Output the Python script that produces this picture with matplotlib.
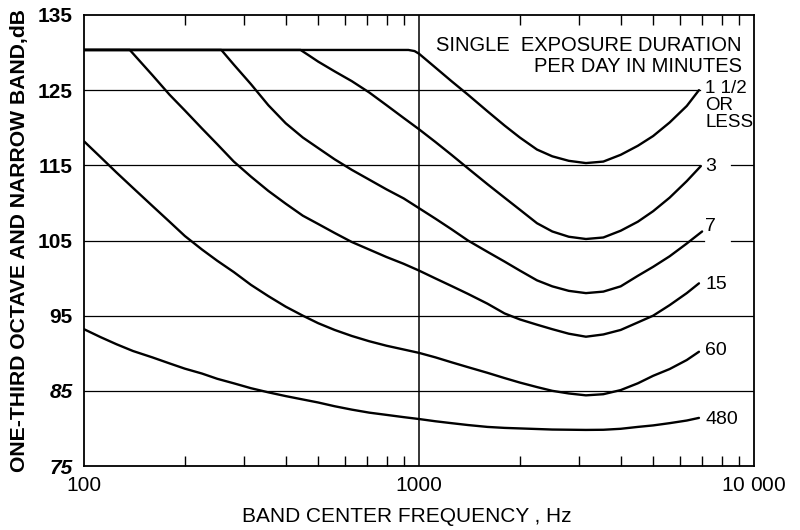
import matplotlib
matplotlib.use('Agg')
import matplotlib.pyplot as plt
from matplotlib.ticker import FixedLocator, NullFormatter

plt.rcParams['font.family'] = ['Liberation Sans', 'DejaVu Sans']
plt.rcParams['mathtext.fontset'] = 'custom'
plt.rcParams['mathtext.it'] = 'Liberation Sans:italic'
plt.rcParams['mathtext.rm'] = 'Liberation Sans'

# ---------------- data ----------------
# "1 1/2 OR LESS" minutes
f_1p5 = [100, 930, 970, 1000, 1060, 1120, 1250, 1400, 1600, 1800, 2000, 2250,
         2500, 2800, 3150, 3550, 4000, 4500, 5000, 5600, 6300, 6850]
db_1p5 = [130.35, 130.35, 130.2, 129.85, 128.9, 128.0, 126.2, 124.4, 122.2,
          120.3, 118.7, 117.1, 116.2, 115.6, 115.3, 115.5, 116.4, 117.6, 118.9,
          120.7, 122.9, 125.0]

# 3 minutes
f_3 = [100, 443, 470, 500, 560, 630, 710, 800, 900, 1000, 1120, 1250, 1400, 1600,
       1800, 2000, 2250, 2500, 2800, 3150, 3550, 4000, 4500, 5000, 5600, 6300, 6940]
db_3 = [130.35, 130.35, 129.6, 128.8, 127.5, 126.2, 124.7, 123.0, 121.3, 119.8,
        118.1, 116.4, 114.6, 112.5, 110.7, 109.1, 107.3, 106.2, 105.5, 105.2,
        105.4, 106.3, 107.5, 108.9, 110.7, 112.9, 114.9]

# 7 minutes
f_7 = [100, 257, 280, 315, 355, 400, 450, 500, 560, 630, 710, 800, 900, 1000,
       1120, 1250, 1400, 1600, 1800, 2000, 2250, 2500, 2800, 3150, 3550, 4000,
       4500, 5000, 5600, 6300, 7000]
db_7 = [130.35, 130.35, 128.4, 125.8, 123.0, 120.6, 118.7, 117.3, 115.8, 114.4,
        113.1, 111.8, 110.6, 109.3, 107.9, 106.5, 105.0, 103.5, 102.2, 101.0,
        99.7, 98.9, 98.3, 98.0, 98.2, 98.9, 100.3, 101.5, 102.9, 104.6, 106.2]

# 15 minutes
f_15 = [100, 137, 160, 180, 200, 225, 250, 280, 315, 355, 400, 450, 500, 560, 630,
        710, 800, 900, 1000, 1120, 1250, 1400, 1600, 1800, 2000, 2250, 2500, 2800,
        3150, 3550, 4000, 4500, 5000, 5600, 6300, 6850]
db_15 = [130.35, 130.35, 127.0, 124.4, 122.3, 119.9, 117.8, 115.5, 113.5, 111.6,
         109.9, 108.3, 107.2, 106.0, 104.8, 103.8, 102.8, 101.9, 101.0, 99.95,
         98.95, 97.9, 96.6, 95.3, 94.5, 93.8, 93.2, 92.6, 92.2, 92.5, 93.1, 94.1,
         95.0, 96.4, 98.0, 99.3]

# 60 minutes
f_60 = [100, 112, 125, 140, 160, 180, 200, 225, 250, 280, 315, 355, 400, 450, 500,
        560, 630, 710, 800, 900, 1000, 1120, 1250, 1400, 1600, 1800, 2000, 2250,
        2500, 2800, 3150, 3550, 4000, 4500, 5000, 5600, 6300, 6850]
db_60 = [118.2, 116.1, 114.05, 112.0, 109.6, 107.5, 105.6, 103.8, 102.3, 100.8,
         99.1, 97.6, 96.2, 95.0, 94.0, 93.1, 92.3, 91.6, 91.0, 90.5, 90.05, 89.45,
         88.8, 88.15, 87.4, 86.7, 86.1, 85.5, 85.0, 84.65, 84.4, 84.55, 85.1,
         86.0, 87.0, 87.9, 89.1, 90.2]

# 480 minutes
f_480 = [100, 112, 125, 140, 160, 180, 200, 225, 250, 280, 315, 355, 400, 450, 500,
         560, 630, 710, 800, 900, 1000, 1120, 1250, 1400, 1600, 1800, 2000, 2500,
         3150, 3550, 4000, 4500, 5000, 5600, 6300, 6850]
db_480 = [93.2, 92.15, 91.2, 90.3, 89.45, 88.65, 87.95, 87.3, 86.6, 86.0, 85.35,
          84.8, 84.3, 83.85, 83.45, 82.95, 82.5, 82.1, 81.8, 81.5, 81.25, 80.95,
          80.7, 80.45, 80.2, 80.07, 80.0, 79.85, 79.8, 79.82, 79.95, 80.2, 80.4,
          80.7, 81.05, 81.4]

curve_labels = ['1 1/2\nOR\nLESS', '3', '7', '15', '60', '480']
label_db = [126.3, 114.9, 106.8, 99.1, 90.3, 81.2]

y_ticks = [75, 85, 95, 105, 115, 125, 135]
x_ticks = [100, 1000, 10000]
x_ticklabels = ['100', '1000', r'10 $\mathit{000}$']
x_minor = [200, 300, 400, 500, 600, 700, 800, 900,
           2000, 3000, 4000, 5000, 6000, 7000, 8000, 9000]

title = 'SINGLE  EXPOSURE DURATION\nPER DAY IN MINUTES'
xlabel = 'BAND CENTER FREQUENCY , Hz'
ylabel = 'ONE-THIRD OCTAVE AND NARROW BAND,dB'

# ---------------- figure ----------------
fig = plt.figure(figsize=(8, 5.3), dpi=100)
ax = fig.add_axes([84 / 800, 64 / 530, 670 / 800, 451 / 530])
ax.set_xscale('log')
ax.set_xlim(100, 10000)
ax.set_ylim(75, 135)

# grid lines (some interrupted by the curve labels)
gl = dict(color='black', lw=0.9, zorder=1)
ax.axhline(125, xmin=0, xmax=0.919, **gl)
ax.axhline(115, xmin=0, xmax=0.919, **gl)
ax.axhline(115, xmin=0.965, xmax=1, **gl)
ax.axhline(105, xmin=0, xmax=0.926, **gl)
ax.axhline(105, xmin=0.965, xmax=1, **gl)
ax.axhline(95, **gl)
ax.axhline(85, **gl)
ax.axvline(1000, color='black', lw=1.1, zorder=1)

series = [(f_1p5, db_1p5), (f_3, db_3), (f_7, db_7), (f_15, db_15),
          (f_60, db_60), (f_480, db_480)]
for (f, db) in series:
    ax.plot(f, db, color='black', lw=1.7, solid_joinstyle='round',
            solid_capstyle='round', zorder=3)

for lab, yv in zip(curve_labels, label_db):
    if '\n' in lab:
        ax.text(7150, yv, lab, ha='left', va='top', fontsize=13.5,
                linespacing=1.0)
    else:
        ax.text(7150, yv, lab, ha='left', va='center', fontsize=14)

ax.text(0.982, 0.953, title, transform=ax.transAxes, ha='right', va='top',
        fontsize=14.5, linespacing=1.12)

# ticks
ax.set_xticks(x_ticks)
ax.set_xticklabels(x_ticklabels)
ax.xaxis.set_minor_locator(FixedLocator(x_minor))
ax.xaxis.set_minor_formatter(NullFormatter())
ax.tick_params(axis='x', which='minor', direction='in', length=7, width=1.0,
               top=True, bottom=True)
ax.tick_params(axis='x', which='major', length=0, pad=7, labelsize=15)
ax.set_yticks(y_ticks)
ax.set_yticklabels([str(v) for v in y_ticks])
ax.tick_params(axis='y', which='both', length=0, pad=8, labelsize=15)
for t in ax.get_yticklabels():
    t.set_fontweight('bold')
    if t.get_text() in ('75', '85'):
        t.set_fontstyle('italic')

for s in ax.spines.values():
    s.set_linewidth(1.3)

fig.text(407 / 800, 8 / 530, xlabel, ha='center', va='baseline', fontsize=15)
fig.text(20 / 800, (530 - 240) / 530, ylabel, rotation=90, ha='center',
         va='center', fontsize=15.2, fontweight='bold')

fig.savefig('out.png', dpi=100)
